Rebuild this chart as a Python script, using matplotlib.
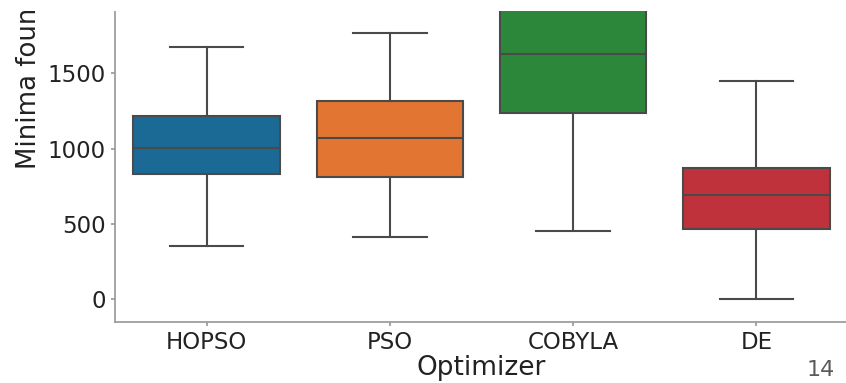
import matplotlib
matplotlib.use("Agg")
import matplotlib.pyplot as plt
from matplotlib.patches import Rectangle

# box stats (minima found per optimizer)
optimizers = ["HOPSO", "PSO", "COBYLA", "DE"]
whisk_lo = [356, 413, 455, 0]
q1 = [832, 812, 1238, 469]
median = [1002, 1073, 1626, 692]
q3 = [1217, 1316, 2150, 873]
whisk_hi = [1672, 1765, 2980, 1447]
box_colors = ["#1b6a96", "#e37533", "#2c873a", "#c0323b"]

line_col = "#4a4a4a"
text_col = "#222222"
spine_col = "#9a9a9a"

fig = plt.figure(figsize=(8.46, 3.83), dpi=100)
W, H = 846, 383
# axes box in pixels: left 115, right ~848, bottom 321.7, top 11 (top of chart is cut off)
ax = fig.add_axes([115 / W, (H - 321.7) / H, 733 / W, (321.7 - 11) / H])

stats = []
for i in range(len(optimizers)):
    stats.append({"label": optimizers[i], "whislo": whisk_lo[i], "q1": q1[i],
                  "med": median[i], "q3": q3[i], "whishi": whisk_hi[i], "fliers": []})

bp = ax.bxp(stats, positions=range(len(optimizers)), widths=0.8, capwidths=0.4,
            patch_artist=True, showfliers=False,
            boxprops=dict(edgecolor=line_col, linewidth=1.5),
            medianprops=dict(color=line_col, linewidth=1.5),
            whiskerprops=dict(color=line_col, linewidth=1.5),
            capprops=dict(color=line_col, linewidth=1.5))
for patch, c in zip(bp["boxes"], box_colors):
    patch.set_facecolor(c)

ax.set_xlim(-0.5, 3.5)
ax.set_ylim(-149, 1913)
ax.set_yticks([0, 500, 1000, 1500])
ax.set_xticks(range(len(optimizers)))
ax.set_xticklabels(optimizers)

for side in ["top", "right"]:
    ax.spines[side].set_visible(False)
for side in ["left", "bottom"]:
    ax.spines[side].set_color(spine_col)
    ax.spines[side].set_linewidth(1.25)
ax.tick_params(axis="both", colors=spine_col, labelcolor=text_col, labelsize=16.5,
               length=3, width=1.25)

ax.set_xlabel("Optimizer", fontsize=19, color=text_col, labelpad=1)
ax.set_ylabel("Minima found", fontsize=18.7, color=text_col)
ax.yaxis.label.set(ha="left", va="baseline", rotation_mode="anchor")
ax.yaxis.set_label_coords((36 - 115) / 733, (321.7 - 169) / (321.7 - 11))

# slide page number
fig.text(821 / W, 1 - 370 / H, "14", fontsize=16, color="#5a5a5a", ha="center", va="center")

# white band hiding the top of the slide
fig.add_artist(Rectangle((0, 1 - 11 / H), 1, 11 / H, transform=fig.transFigure,
                         facecolor="white", edgecolor="none", zorder=100))

fig.savefig("out.png", dpi=100)
